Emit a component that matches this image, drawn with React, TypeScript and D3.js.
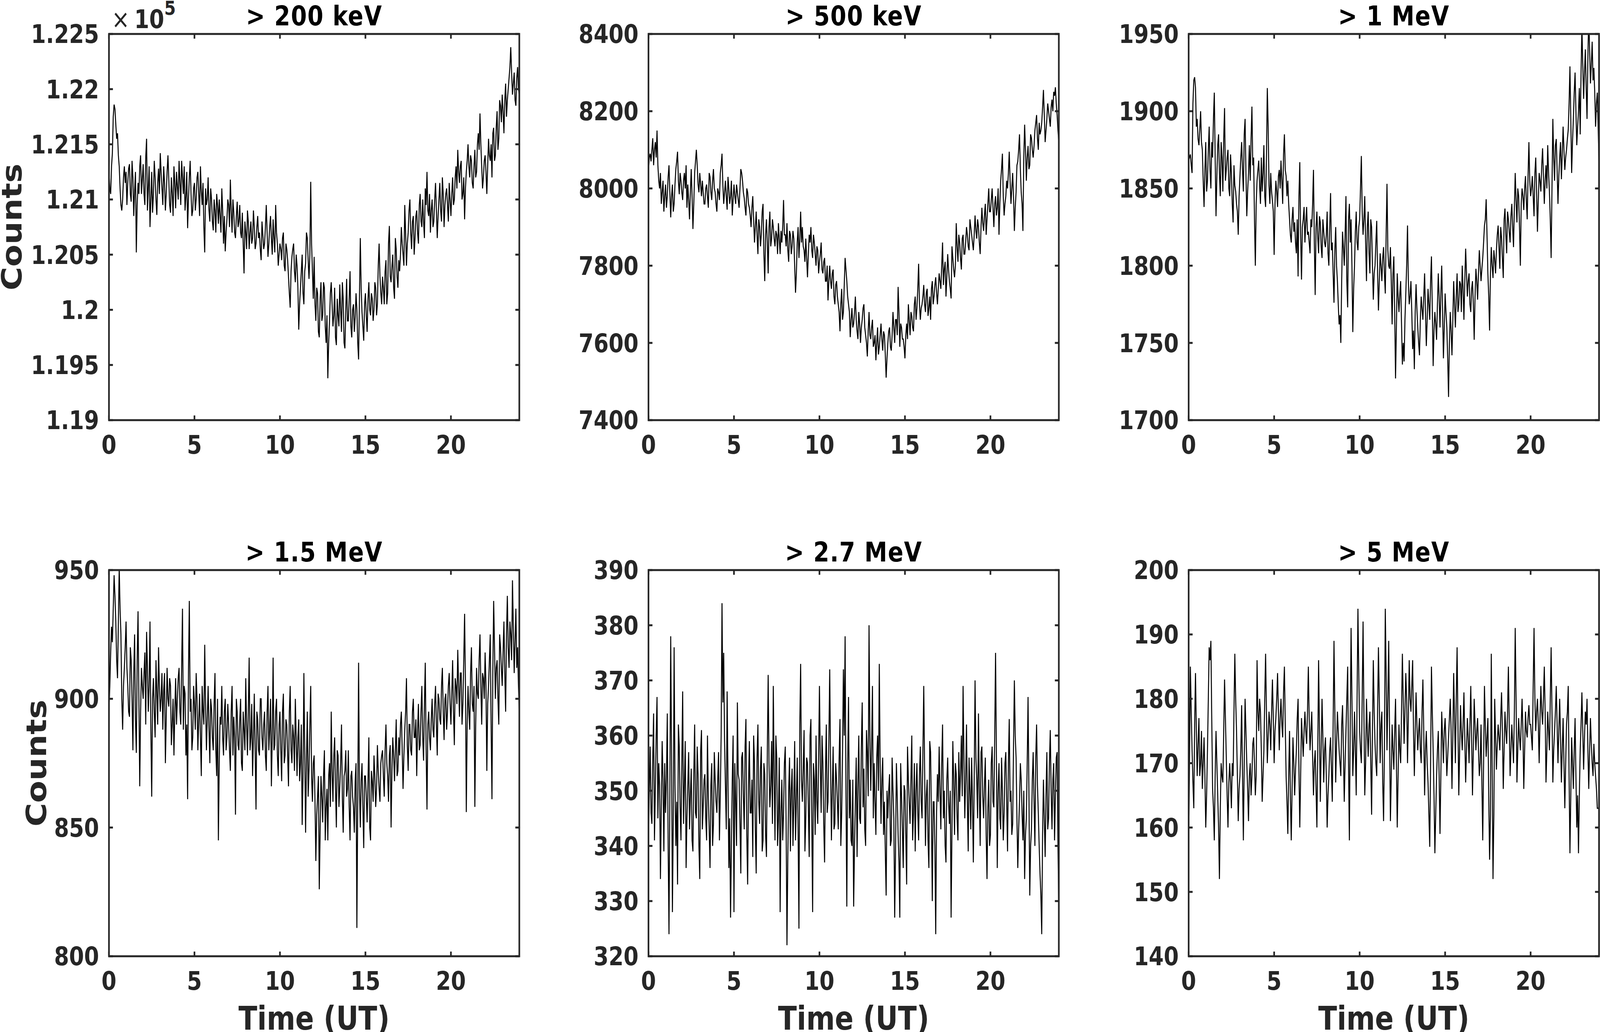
import * as d3 from 'd3';

const TITLES = ['> 200 keV', '> 500 keV', '> 1 MeV', '> 1.5 MeV', '> 2.7 MeV', '> 5 MeV'];

// Readings every 6 min: one row per hour (10 samples), last value at 24 UT
const COUNTS_200KEV = [
  121250, 121050, 121420, 121860, 121680, 121600, 121300, 120950, 121000, 121300,
  121250, 121150, 121320, 120980, 121200, 121080, 120520, 121150, 121300, 121050,
  121320, 120950, 121550, 121100, 120750, 121250, 121050, 121200, 120860, 121280,
  121420, 121100, 121300, 120900, 121250, 121180, 120880, 121060, 121300, 120920,
  121120, 121350, 120950, 121200, 121300, 121030, 120740, 121200, 121050, 120900,
  121150, 121000, 121250, 120850, 121080, 121150, 120520, 120950, 121200, 120800,
  121000, 120720, 120900, 121050, 120780, 120850, 121100, 120600, 120530, 120820,
  120950, 121180, 120700, 120880, 120650, 120980, 120800, 120700, 120880, 120330,
  120700, 120900, 120550, 120800, 120650, 120750, 120600, 120850, 120700, 120450,
  120680, 120600, 120950, 120480, 120750, 120650, 120820, 120520, 120700, 120400,
  120600, 120450, 120700, 120350, 120550, 120300, 120020, 120480, 120600, 120250,
  120400, 119820, 120200, 120500, 120050, 120420, 120650, 120280, 121160, 120350,
  120480, 119900, 120150, 119750, 120250, 119950, 120200, 119700, 119380, 119900,
  120250, 119850, 120200, 119680, 119950, 120230, 119800, 120100, 119650, 120280,
  119900, 120350, 119750, 120050, 119930, 120000, 119550, 120650, 119980, 119720,
  120150, 119800, 120250, 119950, 120100, 120000, 120200, 120050, 120600, 120150,
  120300, 120050, 120450, 120150, 120760, 120250, 120500, 120100, 120550, 120200,
  120350, 120750, 120500, 120950, 120400, 120700, 121000, 120550, 120850, 120650,
  120900, 120600, 121050, 120750, 120800, 121100, 121250, 120850, 120700, 121000,
  120800, 121150, 120650, 121000, 120900, 121200, 120750, 121050, 120950, 121150,
  120850, 121200, 121000, 121300, 121450, 121150, 121350, 121050, 120820, 121250,
  121500, 121200, 121350, 121100, 121450, 121250, 121600, 121780, 121300, 121200,
  121400, 121050, 121550, 121350, 121200, 121650, 121400, 121800, 121550, 121850,
  121950, 121600, 122050, 121900, 122100, 122380, 121950, 122150, 121850, 122200,
  121950,
];
// readings 3 min after each of the above
const COUNTS_200KEV_HALF = [
  121100, 121300, 121750, 121820, 121550, 121400, 121100, 120900, 121200, 121150,
  120950, 121280, 121050, 121350, 120850, 121250, 120950, 121050, 121400, 121180,
  121050, 121380, 120900, 121300, 121000, 120880, 121350, 121000, 121150, 121050,
  121250, 120950, 121150, 121050, 121400, 120950, 121200, 120850, 121150, 121250,
  121000, 121150, 121350, 121050, 120900, 121250, 121000, 121350, 120850, 121100,
  120900, 121200, 121050, 121300, 120950, 120750, 121100, 121000, 120900, 121100,
  120800, 121000, 120700, 120950, 121000, 120700, 120900, 120850, 120700, 121000,
  120750, 120900, 121000, 120700, 120850, 120750, 120950, 120650, 120600, 120800,
  120550, 120800, 120700, 120600, 120900, 120550, 120750, 120650, 120550, 120800,
  120550, 120750, 120700, 120600, 120850, 120500, 120650, 120950, 120600, 120500,
  120550, 120650, 120400, 120600, 120450, 120150, 120350, 120550, 120350, 120500,
  120200, 120050, 120350, 120150, 120350, 120700, 120450, 120500, 120600, 120100,
  120050, 120200, 119800, 120100, 119900, 120250, 119850, 119950, 119700, 120150,
  120050, 119950, 119750, 120100, 119850, 120000, 120250, 119700, 120000, 119900,
  120100, 119850, 120000, 119800, 120150, 119700, 120100, 120200, 119850, 120050,
  119950, 120100, 120000, 120150, 119900, 120250, 119950, 120400, 120300, 120050,
  120200, 120350, 120050, 120600, 120300, 120400, 120200, 120650, 120300, 120450,
  120500, 120600, 120400, 120700, 120600, 120900, 120700, 120800, 120500, 120850,
  120700, 120950, 120800, 121000, 120650, 120950, 120900, 121050, 120900, 120750,
  121000, 120900, 120850, 121150, 120800, 121050, 120950, 121100, 120800, 121000,
  121050, 120950, 121200, 121100, 121250, 121300, 121000, 121200, 121100, 121350,
  121300, 121400, 121150, 121300, 121200, 121500, 121450, 121500, 121100, 121350,
  121250, 121300, 121400, 121500, 121600, 121350, 121650, 121450, 121900, 121700,
  121800, 121900, 121750, 122000, 122200, 122150, 122050, 121900, 122100, 122000,
];

const COUNTS_500KEV = [
  8050, 8090, 8100, 8060, 8120, 8150, 8020, 8040, 7990, 7940,
  8010, 7980, 8060, 7925, 8010, 7960, 8050, 8095, 7985, 8020,
  7970, 8040, 8060, 8010, 7920, 8050, 7895, 8040, 8100, 8010,
  8040, 7980, 7990, 7960, 8010, 7950, 8030, 7970, 8050, 7990,
  7940, 7990, 8040, 8090, 7960, 8020, 7945, 8000, 7980, 7930,
  8010, 7960, 7990, 7950, 8050, 8020, 7975, 7930, 7990, 7950,
  7900, 7980, 7860, 7940, 7830, 7900, 7880, 7960, 7760, 7920,
  7780, 7940, 7870, 7900, 7850, 7880, 7910, 7830, 7860, 7970,
  7880, 7910, 7810, 7880, 7850, 7870, 7730, 7860, 7820, 7940,
  7900, 7840, 7870, 7770, 7880, 7900, 7820, 7860, 7800, 7840,
  7810, 7860, 7780, 7820, 7760, 7710, 7800, 7740, 7790, 7700,
  7760, 7700, 7630, 7740, 7680, 7820, 7760, 7700, 7615, 7690,
  7650, 7720, 7630, 7680, 7600, 7660, 7700, 7620, 7565, 7680,
  7610, 7660, 7600, 7555, 7640, 7590, 7650, 7580, 7620, 7510,
  7600, 7640, 7580, 7680, 7600, 7660, 7745, 7590, 7640, 7610,
  7560, 7650, 7700, 7620, 7670, 7630, 7720, 7690, 7805, 7660,
  7700, 7750, 7680, 7740, 7690, 7660, 7760, 7720, 7770, 7700,
  7780, 7740, 7860, 7790, 7720, 7830, 7760, 7715, 7820, 7770,
  7910, 7810, 7860, 7790, 7880, 7830, 7900, 7850, 7920, 7880,
  7840, 7930, 7870, 7900, 7830, 7950, 7890, 7960, 7920, 8000,
  7940, 8000, 7900, 7980, 7950, 7880, 8020, 8090, 7930, 7980,
  8000, 8095, 7960, 8040, 7890, 7990, 8070, 8140, 7990, 7890,
  8165, 8020, 8110, 8060, 8130, 8080, 8150, 8190, 8100, 8140,
  8170, 8255, 8120, 8180, 8200, 8160, 8230, 8250, 8262, 8190,
  8120,
];
const COUNTS_500KEV_HALF = [
  8080, 8070, 8130, 8100, 8080, 8060, 8000, 7960, 8020, 7980,
  7950, 8030, 7990, 7980, 7940, 8010, 8070, 8020, 8040, 7990,
  8020, 8000, 7950, 7970, 7990, 7980, 7960, 8070, 8060, 7990,
  8010, 8020, 7960, 8000, 7980, 8040, 7990, 8020, 8000, 7960,
  8000, 7970, 8060, 8010, 7990, 7980, 8030, 7960, 8020, 7970,
  7980, 8010, 7970, 8000, 8040, 7990, 7950, 8000, 7960, 7930,
  7950, 7920, 7900, 7880, 7920, 7850, 7940, 7830, 7880, 7860,
  7900, 7850, 7920, 7870, 7890, 7830, 7870, 7890, 7900, 7880,
  7850, 7840, 7890, 7830, 7890, 7800, 7780, 7900, 7870, 7860,
  7850, 7810, 7820, 7830, 7860, 7840, 7880, 7830, 7850, 7780,
  7830, 7790, 7810, 7760, 7800, 7760, 7760, 7780, 7720, 7750,
  7720, 7680, 7700, 7660, 7750, 7790, 7720, 7680, 7660, 7640,
  7680, 7660, 7610, 7650, 7640, 7690, 7640, 7600, 7630, 7620,
  7640, 7590, 7620, 7600, 7570, 7620, 7610, 7630, 7570, 7560,
  7630, 7590, 7620, 7640, 7660, 7620, 7680, 7650, 7610, 7590,
  7620, 7610, 7660, 7680, 7640, 7700, 7660, 7740, 7700, 7690,
  7720, 7700, 7730, 7670, 7720, 7740, 7700, 7750, 7730, 7740,
  7760, 7800, 7750, 7810, 7770, 7790, 7740, 7850, 7790, 7800,
  7850, 7880, 7820, 7870, 7830, 7860, 7880, 7840, 7900, 7860,
  7880, 7890, 7920, 7860, 7900, 7910, 7930, 7880, 7960, 7940,
  7970, 7950, 7960, 7930, 8000, 7960, 8050, 7980, 7960, 8020,
  8040, 8020, 8000, 7980, 7950, 8060, 8100, 8050, 7960, 8080,
  8100, 8080, 8050, 8140, 8100, 8110, 8170, 8130, 8170, 8150,
  8210, 8190, 8150, 8220, 8180, 8210, 8200, 8240, 8220, 8150,
];

const COUNTS_1MEV = [
  1868, 1872, 1860, 1920, 1915, 1895, 1878, 1900, 1875, 1838,
  1880, 1855, 1890, 1850, 1870, 1912, 1832, 1878, 1860, 1880,
  1848, 1902, 1862, 1875, 1845, 1860, 1828, 1852, 1840, 1820,
  1858, 1880, 1848, 1895, 1832, 1860, 1855, 1903, 1870, 1800,
  1855, 1868, 1840, 1848, 1878, 1838, 1915, 1852, 1860, 1842,
  1807, 1855, 1838, 1862, 1868, 1840, 1885, 1858, 1855, 1830,
  1815, 1838, 1828, 1808, 1793, 1867, 1791, 1830, 1815, 1838,
  1822, 1808, 1825, 1862, 1781, 1835, 1808, 1828, 1805, 1822,
  1812, 1835, 1800, 1847, 1815, 1776, 1825, 1790, 1762, 1750,
  1822, 1800, 1845, 1773, 1840, 1830, 1757, 1800, 1835, 1810,
  1830, 1871, 1820, 1845, 1790, 1835, 1795, 1825, 1778, 1800,
  1829, 1771, 1808, 1790, 1812, 1782, 1853, 1800, 1812, 1762,
  1806, 1727, 1795, 1770, 1790, 1736, 1738, 1782, 1826, 1775,
  1790, 1746, 1733, 1788, 1760, 1742, 1780, 1765, 1795, 1748,
  1785, 1765, 1806, 1735, 1770, 1752, 1795, 1760, 1800, 1740,
  1782, 1760, 1715, 1770, 1742, 1790, 1760, 1795, 1775, 1788,
  1800, 1765, 1811, 1780, 1795, 1770, 1790, 1752, 1798, 1778,
  1810, 1790, 1805, 1826, 1843, 1795, 1758, 1812, 1792, 1804,
  1810, 1826, 1798, 1818, 1792, 1837, 1808, 1830, 1815, 1840,
  1812, 1860, 1828, 1845, 1800, 1850, 1836, 1858, 1830, 1880,
  1845, 1858, 1832, 1870, 1822, 1860, 1848, 1876, 1840, 1865,
  1878, 1848, 1805, 1895, 1855, 1882, 1840, 1870, 1856, 1890,
  1862, 1875, 1888, 1929, 1860, 1895, 1925, 1878, 1900, 1885,
  1955, 1908, 1940, 1895, 1962, 1918, 1945, 1928, 1890, 1912,
  1865,
];
const COUNTS_1MEV_HALF = [
  1870, 1865, 1905, 1922, 1890, 1882, 1888, 1880, 1855, 1862,
  1848, 1875, 1862, 1880, 1895, 1870, 1858, 1885, 1845, 1870,
  1882, 1855, 1870, 1850, 1872, 1840, 1865, 1848, 1835, 1845,
  1870, 1862, 1885, 1860, 1848, 1878, 1882, 1865, 1830, 1840,
  1862, 1852, 1870, 1860, 1845, 1870, 1890, 1840, 1848, 1835,
  1840, 1848, 1858, 1850, 1855, 1872, 1862, 1845, 1840, 1820,
  1830, 1822, 1815, 1830, 1845, 1820, 1825, 1838, 1828, 1820,
  1815, 1830, 1840, 1815, 1825, 1818, 1832, 1812, 1830, 1815,
  1820, 1808, 1825, 1810, 1795, 1810, 1800, 1775, 1768, 1790,
  1812, 1820, 1790, 1830, 1815, 1800, 1785, 1822, 1815, 1825,
  1850, 1835, 1830, 1815, 1825, 1808, 1830, 1800, 1795, 1815,
  1795, 1790, 1800, 1805, 1795, 1820, 1810, 1798, 1790, 1795,
  1770, 1760, 1780, 1782, 1762, 1750, 1765, 1800, 1790, 1780,
  1770, 1758, 1770, 1772, 1750, 1765, 1772, 1780, 1770, 1765,
  1775, 1790, 1772, 1758, 1762, 1775, 1780, 1782, 1772, 1760,
  1770, 1740, 1750, 1758, 1765, 1775, 1780, 1770, 1790, 1770,
  1785, 1790, 1795, 1790, 1775, 1785, 1775, 1780, 1790, 1795,
  1800, 1798, 1815, 1830, 1820, 1780, 1795, 1800, 1810, 1795,
  1820, 1812, 1825, 1805, 1830, 1820, 1835, 1822, 1832, 1825,
  1838, 1842, 1850, 1825, 1840, 1845, 1850, 1842, 1858, 1855,
  1850, 1845, 1860, 1848, 1842, 1855, 1865, 1858, 1855, 1850,
  1860, 1830, 1850, 1870, 1878, 1862, 1858, 1880, 1872, 1875,
  1870, 1882, 1905, 1895, 1880, 1912, 1900, 1890, 1915, 1925,
  1930, 1925, 1915, 1935, 1940, 1930, 1920, 1912, 1905, 1890,
];

const COUNTS_1P5MEV = [
  895, 918, 922, 948, 930, 908, 951, 925, 888, 912,
  930, 905, 893, 915, 880, 925, 879, 934, 866, 912,
  900, 918, 926, 895, 930, 862, 908, 885, 902, 920,
  895, 910, 903, 875, 912, 897, 905, 890, 878, 908,
  900, 912, 890, 935, 905, 878, 861, 938, 900, 885,
  898, 910, 880, 902, 870, 895, 921, 880, 905, 875,
  896, 880, 910, 870, 845, 893, 905, 878, 900, 885,
  890, 872, 905, 893, 855, 895, 880, 900, 872, 888,
  908, 878, 916, 885, 870, 902, 857, 892, 878, 900,
  880, 895, 872, 905, 888, 866, 916, 882, 900, 870,
  895, 868, 902, 878, 890, 866, 905, 875, 885, 900,
  870, 892, 875, 851, 910, 848, 895, 872, 905, 860,
  878, 837, 862, 826, 870, 852, 880, 858, 845, 875,
  895, 860, 885, 850, 878, 866, 890, 848, 872, 862,
  880, 845, 872, 858, 868, 811, 914, 850, 875, 842,
  870, 852, 885, 845, 868, 878, 858, 882, 865, 875,
  880, 862, 890, 870, 878, 850, 885, 868, 892, 872,
  878, 895, 865, 888, 908, 872, 890, 878, 900, 885,
  870, 898, 882, 905, 876, 914, 857, 895, 880, 900,
  885, 905, 878, 900, 890, 912, 884, 902, 895, 910,
  890, 915, 882, 905, 919, 893, 910, 898, 933, 856,
  905, 888, 920, 895, 858, 912, 900, 925, 890, 908,
  918, 872, 905, 925, 861, 938, 900, 915, 890, 920,
  905, 930, 895, 940, 912, 925, 946, 910, 935, 920,
  895,
];
const COUNTS_1P5MEV_HALF = [
  905, 928, 935, 940, 915, 930, 935, 900, 905, 920,
  912, 895, 920, 900, 910, 892, 915, 900, 895, 905,
  910, 890, 912, 905, 888, 900, 895, 915, 890, 905,
  900, 888, 910, 892, 900, 908, 882, 900, 895, 890,
  908, 895, 912, 888, 902, 890, 910, 895, 880, 905,
  888, 900, 892, 885, 905, 890, 898, 892, 888, 900,
  885, 898, 880, 900, 875, 890, 885, 895, 880, 898,
  880, 895, 878, 885, 900, 882, 892, 875, 895, 880,
  890, 895, 880, 898, 885, 880, 895, 880, 900, 885,
  890, 878, 895, 880, 900, 885, 880, 895, 878, 890,
  880, 895, 875, 892, 878, 895, 880, 890, 872, 885,
  885, 868, 890, 870, 880, 875, 862, 890, 870, 875,
  860, 855, 870, 848, 862, 870, 845, 865, 870, 858,
  872, 878, 865, 880, 858, 875, 862, 870, 880, 865,
  858, 870, 862, 848, 875, 860, 865, 868, 858, 870,
  862, 868, 850, 872, 860, 870, 865, 872, 860, 878,
  870, 880, 875, 860, 882, 872, 878, 880, 870, 885,
  890, 880, 878, 895, 882, 890, 880, 895, 885, 892,
  888, 880, 895, 885, 898, 880, 890, 885, 892, 888,
  898, 890, 902, 892, 905, 895, 900, 888, 905, 898,
  902, 895, 908, 898, 905, 910, 890, 915, 905, 890,
  895, 910, 898, 905, 890, 902, 915, 905, 910, 900,
  905, 898, 915, 890, 910, 920, 912, 900, 925, 912,
  918, 910, 925, 920, 930, 915, 928, 922, 912, 905,
];

const COUNTS_2P7MEV = [
  342, 358, 344, 364, 350, 367, 355, 334, 359, 339,
  346, 364, 324, 378, 328, 376, 340, 333, 358, 341,
  368, 351, 336, 351, 343, 354, 339, 362, 345, 353,
  334, 361, 347, 353, 341, 349, 336, 355, 344, 352,
  346, 357, 349, 384, 375, 351, 368, 336, 327, 352,
  328, 348, 366, 352, 335, 357, 343, 363, 333, 359,
  346, 338, 355, 335, 362, 344, 358, 341, 353, 338,
  371, 347, 359, 369, 341, 356, 345, 328, 352, 346,
  358, 322, 350, 339, 354, 348, 341, 356, 325, 373,
  348, 361, 345, 355, 338, 363, 328, 352, 360, 344,
  369, 346, 355, 337, 362, 348, 372, 341, 358, 344,
  352, 343, 363, 346, 372, 378, 329, 367, 352, 340,
  329, 348, 338, 360, 344, 366, 354, 340, 357, 380,
  350, 369, 355, 342, 360, 373, 344, 356, 348, 331,
  345, 353, 341, 350, 327, 355, 342, 327, 349, 336,
  350, 333, 352, 344, 360, 346, 339, 355, 341, 358,
  345, 369, 340, 352, 336, 357, 330, 348, 324, 353,
  358, 343, 362, 350, 337, 356, 344, 327, 359, 342,
  353, 341, 348, 360, 369, 345, 362, 339, 350, 356,
  337, 370, 352, 364, 340, 358, 345, 356, 334, 352,
  342, 358, 347, 375, 336, 355, 343, 350, 346, 357,
  339, 363, 350, 344, 370, 356, 336, 348, 352, 341,
  334, 345, 367, 331, 343, 357, 340, 362, 346, 335,
  324, 352, 338, 357, 345, 361, 343, 355, 349, 357,
  328,
];
const COUNTS_2P7MEV_HALF = [
  350, 346, 356, 341, 360, 345, 351, 347, 352, 355,
  352, 340, 350, 356, 345, 351, 348, 362, 347, 355,
  344, 359, 345, 357, 349, 341, 353, 346, 358, 340,
  357, 343, 352, 345, 360, 343, 351, 340, 357, 348,
  352, 341, 360, 366, 359, 343, 352, 345, 340, 360,
  355, 340, 353, 344, 356, 349, 358, 342, 351, 346,
  352, 360, 343, 356, 348, 354, 339, 355, 342, 357,
  355, 351, 344, 353, 360, 340, 356, 346, 341, 355,
  344, 338, 356, 350, 340, 359, 348, 343, 362, 352,
  354, 339, 356, 347, 360, 345, 355, 342, 348, 356,
  355, 360, 344, 353, 346, 359, 355, 350, 343, 355,
  348, 356, 340, 357, 360, 350, 355, 345, 341, 352,
  340, 356, 351, 345, 358, 347, 343, 361, 349, 360,
  358, 345, 348, 356, 350, 355, 352, 342, 339, 350,
  350, 340, 356, 345, 339, 349, 337, 355, 343, 351,
  342, 358, 348, 352, 341, 355, 350, 346, 353, 348,
  357, 354, 349, 341, 359, 345, 348, 340, 346, 348,
  350, 355, 345, 340, 352, 348, 350, 343, 352, 355,
  345, 357, 353, 349, 356, 352, 348, 356, 343, 348,
  352, 356, 345, 350, 357, 349, 351, 342, 347, 340,
  355, 348, 360, 356, 350, 345, 356, 341, 355, 348,
  355, 348, 342, 358, 360, 345, 343, 355, 346, 350,
  342, 355, 350, 340, 352, 348, 356, 351, 340, 331,
  342, 345, 349, 343, 355, 350, 352, 341, 356, 340,
];

const COUNTS_5MEV = [
  157, 185, 172, 163, 184, 168, 177, 170, 166, 174,
  160, 172, 188, 189, 166, 158, 175, 165, 152, 170,
  167, 183, 171, 160, 170, 163, 168, 187, 175, 161,
  168, 179, 158, 180, 170, 161, 170, 168, 174, 165,
  186, 175, 178, 164, 172, 187, 170, 178, 172, 183,
  170, 177, 184, 172, 180, 174, 185, 168, 159, 175,
  158, 174, 165, 172, 180, 160, 177, 171, 178, 173,
  185, 172, 178, 165, 172, 160, 186, 164, 180, 167,
  174, 160, 168, 174, 164, 189, 167, 178, 172, 168,
  179, 164, 175, 185, 158, 191, 168, 178, 165, 194,
  175, 170, 192, 165, 180, 171, 178, 162, 186, 173,
  168, 188, 170, 178, 161, 194, 172, 189, 161, 176,
  169, 180, 160, 176, 170, 187, 173, 184, 170, 186,
  178, 186, 168, 181, 172, 177, 170, 183, 165, 175,
  167, 157, 185, 172, 156, 168, 175, 159, 178, 170,
  177, 168, 174, 180, 166, 184, 170, 188, 165, 179,
  172, 181, 167, 177, 170, 182, 165, 180, 172, 177,
  168, 176, 158, 182, 171, 177, 155, 187, 152, 180,
  169, 176, 172, 181, 166, 178, 173, 185, 168, 176,
  170, 191, 167, 177, 172, 180, 166, 178, 174, 179,
  176, 172, 191, 175, 180, 170, 182, 176, 185, 167,
  178, 172, 188, 167, 175, 182, 170, 180, 167, 177,
  163, 176, 182, 156, 174, 166, 177, 160, 156, 172,
  181, 169, 178, 180, 166, 177, 170, 173, 168, 163,
  163,
];
const COUNTS_5MEV_HALF = [
  170, 178, 167, 176, 175, 173, 168, 175, 170, 168,
  165, 180, 186, 177, 163, 168, 170, 160, 163, 168,
  175, 177, 165, 167, 167, 170, 178, 180, 168, 166,
  172, 168, 170, 175, 166, 168, 165, 173, 170, 168,
  178, 180, 172, 168, 180, 178, 174, 176, 178, 177,
  175, 180, 178, 177, 176, 181, 176, 164, 168, 165,
  166, 170, 169, 177, 169, 168, 174, 175, 175, 178,
  177, 175, 171, 170, 166, 172, 175, 172, 174, 172,
  168, 165, 172, 169, 176, 178, 173, 175, 170, 176,
  172, 170, 180, 170, 176, 180, 172, 172, 180, 184,
  172, 180, 178, 170, 175, 176, 170, 175, 178, 170,
  178, 180, 176, 167, 172, 184, 180, 175, 168, 172,
  175, 170, 168, 172, 178, 180, 178, 180, 177, 180,
  182, 175, 175, 176, 175, 172, 178, 175, 172, 170,
  162, 170, 178, 165, 162, 172, 168, 168, 174, 175,
  173, 171, 177, 175, 174, 177, 180, 176, 172, 175,
  176, 174, 172, 174, 176, 174, 172, 176, 175, 172,
  170, 167, 170, 176, 174, 165, 162, 170, 162, 174,
  173, 174, 177, 175, 172, 175, 178, 176, 172, 173,
  178, 180, 172, 174, 176, 175, 172, 175, 177, 176,
  174, 182, 180, 178, 176, 177, 178, 180, 178, 172,
  175, 180, 178, 172, 178, 176, 175, 174, 172, 170,
  170, 178, 168, 165, 170, 172, 168, 165, 165, 176,
  175, 174, 176, 172, 172, 173, 168, 170, 166, 163,
];

const X_TICKS = [0, 5, 10, 15, 20];

const Y_TICKS_200KEV = [119000, 119500, 120000, 120500, 121000, 121500, 122000, 122500];
const Y_LABELS_200KEV = ['1.19', '1.195', '1.2', '1.205', '1.21', '1.215', '1.22', '1.225'];
const Y_TICKS_500KEV = [7400, 7600, 7800, 8000, 8200, 8400];
const Y_TICKS_1MEV = [1700, 1750, 1800, 1850, 1900, 1950];
const Y_TICKS_1P5MEV = [800, 850, 900, 950];
const Y_TICKS_2P7MEV = [320, 330, 340, 350, 360, 370, 380, 390];
const Y_TICKS_5MEV = [140, 150, 160, 170, 180, 190, 200];

// merge the on-the-tenth readings with the ones in between (3-min cadence)
const merge = (main: number[], half: number[]) =>
  main.flatMap((v, i) => (i < half.length ? [v, half[i]] : [v]));

const W = 4831;
const H = 2643;
const COL_LEFT = [329, 1958, 3589];
const ROW_TOP = [87, 1460];
const AX_W = 1239;
const AX_H = 989;
const AXIS_COLOR = '#262626';
const FONT = '"DejaVu Sans", "Liberation Sans", sans-serif';

interface PanelProps {
  idx: number;
  title: string;
  values: number[];
  yTicks: number[];
  yLabels?: string[];
  exponent?: boolean;
}

const Panel = ({ idx, title, values, yTicks, yLabels, exponent }: PanelProps) => {
  const col = idx % 3;
  const row = Math.floor(idx / 3);
  const left = COL_LEFT[col];
  const top = ROW_TOP[row];

  const x = d3.scaleLinear().domain([0, 24]).range([0, AX_W]);
  const y = d3.scaleLinear()
    .domain([yTicks[0], yTicks[yTicks.length - 1]])
    .range([AX_H, 0]);

  // sample i sits at i * 3 min
  const line = d3.line<number>()
    .x((_, i) => x(i / 20))
    .y(d => y(d));

  const tickLen = 12;
  const clipId = `clip-${idx}`;

  return (
    <g transform={`translate(${left},${top})`}>
      <defs>
        <clipPath id={clipId}>
          <rect x={0} y={0} width={AX_W} height={AX_H} />
        </clipPath>
      </defs>

      <path d={line(values) ?? ''} fill="none" stroke="#000" strokeWidth={3}
        clipPath={`url(#${clipId})`} />

      {/* ticks, inward on all four sides */}
      {X_TICKS.map(t => (
        <g key={`x${t}`} stroke={AXIS_COLOR} strokeWidth={5}>
          <line x1={x(t)} x2={x(t)} y1={AX_H} y2={AX_H - tickLen} />
          <line x1={x(t)} x2={x(t)} y1={0} y2={tickLen} />
        </g>
      ))}
      {yTicks.map(t => (
        <g key={`y${t}`} stroke={AXIS_COLOR} strokeWidth={5}>
          <line x1={0} x2={tickLen} y1={y(t)} y2={y(t)} />
          <line x1={AX_W} x2={AX_W - tickLen} y1={y(t)} y2={y(t)} />
        </g>
      ))}

      <rect x={0} y={0} width={AX_W} height={AX_H} fill="none"
        stroke={AXIS_COLOR} strokeWidth={5} />

      {/* tick labels */}
      {X_TICKS.map(t => (
        <text key={`xl${t}`} x={x(t)} y={AX_H + 86} textAnchor="middle"
          fontSize={65} fontWeight="bold" fill={AXIS_COLOR}>{t}</text>
      ))}
      {yTicks.map((t, i) => (
        <text key={`yl${t}`} x={-30} y={y(t)} dy="0.36em" textAnchor="end"
          fontSize={65} fontWeight="bold" fill={AXIS_COLOR}>
          {yLabels ? yLabels[i] : t}
        </text>
      ))}

      {exponent && (
        <text x={8} y={-15} fill={AXIS_COLOR} fontSize={65}>
          <tspan>×</tspan>
          <tspan fontWeight="bold" dx={14}>10</tspan>
          <tspan fontWeight="bold" fontSize={50} dy={-34}>5</tspan>
        </text>
      )}

      <text x={AX_W / 2} y={-22} textAnchor="middle" fontSize={69}
        fontWeight="bold" fill="#000" letterSpacing={2}>{title}</text>

      {col === 0 && (
        <text transform={`translate(${row === 0 ? -264 : -190},${AX_H / 2}) rotate(-90)`}
          textAnchor="middle" fontSize={83} fontWeight="bold" fill={AXIS_COLOR}>Counts</text>
      )}
      {row === 1 && (
        <text x={AX_W / 2} y={AX_H + 188} textAnchor="middle" fontSize={83}
          fontWeight="bold" fill={AXIS_COLOR}>Time (UT)</text>
      )}
    </g>
  );
};

const App = () => {
  const series = [
    merge(COUNTS_200KEV, COUNTS_200KEV_HALF),
    merge(COUNTS_500KEV, COUNTS_500KEV_HALF),
    merge(COUNTS_1MEV, COUNTS_1MEV_HALF),
    merge(COUNTS_1P5MEV, COUNTS_1P5MEV_HALF),
    merge(COUNTS_2P7MEV, COUNTS_2P7MEV_HALF),
    merge(COUNTS_5MEV, COUNTS_5MEV_HALF),
  ];
  const ticks = [Y_TICKS_200KEV, Y_TICKS_500KEV, Y_TICKS_1MEV, Y_TICKS_1P5MEV, Y_TICKS_2P7MEV, Y_TICKS_5MEV];

  return (
    <>
      <style>{`html, body { margin: 0; padding: 0; overflow: hidden; }`}</style>
      <svg viewBox={`0 0 ${W} ${H}`} preserveAspectRatio="none"
        style={{
          position: 'fixed', left: 0, top: 0, width: '100vw', height: '100vh',
          display: 'block', fontFamily: FONT, background: '#fff',
        }}>
        <rect width={W} height={H} fill="#fff" />
        {TITLES.map((title, i) => (
          <Panel key={title} idx={i} title={title} values={series[i]} yTicks={ticks[i]}
            yLabels={i === 0 ? Y_LABELS_200KEV : undefined} exponent={i === 0} />
        ))}
      </svg>
    </>
  );
};

export default App;
